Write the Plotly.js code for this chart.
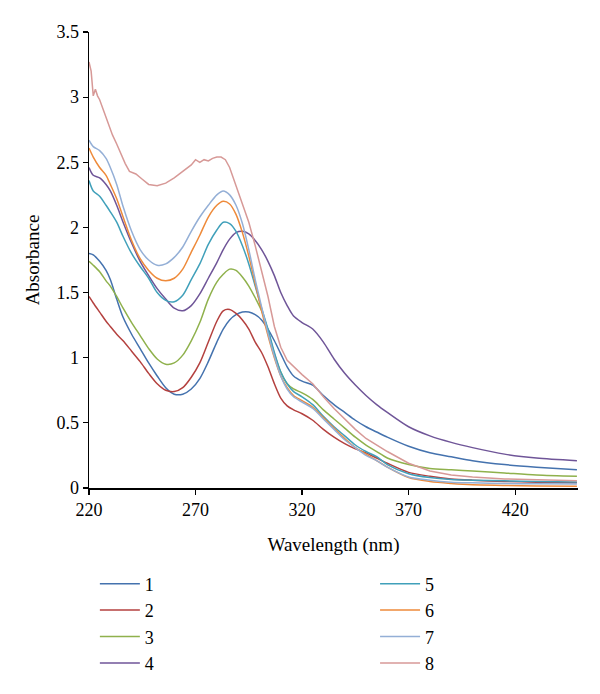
<!DOCTYPE html>
<html>
<head>
<meta charset="utf-8">
<script src="https://cdn.plot.ly/plotly-3.0.1.min.js"></script>
<style>html,body{margin:0;padding:0;background:#fff;}#chart{width:600px;height:694px;}</style>
</head>
<body>
<div id="chart"></div>
<script>
// Wavelengths (nm) shared by series 1-7
const wl = [220,222,225,228,230,233,236,240,244,248,252,256,260,264,268,272,276,280,283,286,289,292,295,298,301,304,307,310,313,316,320,325,330,335,340,345,350,355,360,370,380,390,400,415,430,449];
const s1 = [1.80,1.79,1.74,1.67,1.60,1.45,1.31,1.18,1.07,0.96,0.86,0.77,0.72,0.72,0.76,0.84,0.97,1.12,1.22,1.29,1.33,1.35,1.35,1.33,1.29,1.22,1.13,1.03,0.93,0.86,0.82,0.79,0.71,0.64,0.58,0.52,0.47,0.43,0.39,0.32,0.27,0.24,0.21,0.18,0.16,0.14];
const s2 = [1.47,1.42,1.35,1.28,1.24,1.18,1.13,1.05,0.97,0.88,0.80,0.75,0.74,0.77,0.85,0.96,1.12,1.28,1.36,1.37,1.34,1.29,1.22,1.12,1.04,0.93,0.80,0.69,0.63,0.60,0.57,0.52,0.45,0.39,0.34,0.30,0.27,0.23,0.19,0.12,0.09,0.07,0.06,0.05,0.045,0.04];
const s3 = [1.74,1.71,1.66,1.59,1.55,1.47,1.38,1.27,1.17,1.07,0.99,0.95,0.96,1.02,1.13,1.27,1.45,1.58,1.64,1.68,1.67,1.62,1.55,1.46,1.36,1.21,1.03,0.89,0.80,0.76,0.73,0.68,0.60,0.53,0.46,0.39,0.33,0.28,0.23,0.18,0.15,0.14,0.13,0.115,0.10,0.09];
const s4 = [2.46,2.40,2.38,2.33,2.28,2.17,2.04,1.88,1.74,1.63,1.53,1.45,1.38,1.36,1.40,1.49,1.61,1.73,1.83,1.91,1.96,1.97,1.95,1.90,1.83,1.74,1.63,1.50,1.40,1.32,1.27,1.22,1.12,0.99,0.88,0.79,0.71,0.64,0.58,0.47,0.40,0.35,0.31,0.26,0.23,0.21];
const s5 = [2.36,2.28,2.24,2.17,2.12,2.04,1.93,1.80,1.70,1.61,1.50,1.44,1.43,1.48,1.60,1.72,1.87,1.98,2.04,2.03,1.97,1.86,1.72,1.55,1.38,1.22,1.04,0.89,0.80,0.74,0.70,0.64,0.55,0.47,0.40,0.33,0.28,0.24,0.18,0.11,0.08,0.065,0.06,0.055,0.05,0.046];
const s6 = [2.61,2.54,2.46,2.40,2.33,2.22,2.08,1.90,1.76,1.67,1.61,1.59,1.61,1.68,1.81,1.94,2.08,2.17,2.20,2.18,2.10,1.96,1.78,1.57,1.36,1.17,1.00,0.86,0.77,0.71,0.67,0.62,0.54,0.46,0.38,0.31,0.26,0.21,0.16,0.08,0.05,0.035,0.025,0.02,0.015,0.013];
const s7 = [2.67,2.62,2.59,2.53,2.46,2.33,2.16,1.97,1.83,1.75,1.71,1.72,1.77,1.85,1.97,2.08,2.17,2.25,2.28,2.25,2.17,2.03,1.83,1.60,1.39,1.19,1.01,0.86,0.76,0.70,0.66,0.61,0.53,0.45,0.37,0.31,0.25,0.21,0.16,0.085,0.06,0.045,0.04,0.035,0.032,0.03];
// Series 8 is noisier, sampled more finely
const wl8 = [220,221,222,223,224,225,227,229,231,233,235,237,239,242,245,248,252,256,260,264,266,268,270,272,274,276,278,280,282,284,286,288,290,292,295,298,301,304,307,310,313,316,320,325,330,335,340,345,350,355,360,370,380,390,400,415,430,449];
const s8 = [3.27,3.20,3.01,3.06,3.01,2.98,2.89,2.80,2.71,2.64,2.56,2.49,2.43,2.41,2.37,2.33,2.32,2.34,2.38,2.43,2.45,2.48,2.52,2.50,2.52,2.51,2.53,2.54,2.54,2.52,2.46,2.37,2.28,2.19,2.04,1.86,1.66,1.47,1.24,1.08,0.98,0.93,0.87,0.80,0.70,0.61,0.53,0.45,0.38,0.33,0.28,0.19,0.13,0.10,0.085,0.07,0.062,0.056];

const names = ['1','2','3','4','5','6','7','8'];
const colors = ['#4472AE','#B4413F','#8FB14C','#6F5598','#40A0BA','#EE8A3A','#94AFD6','#D79997'];
const series = [s1,s2,s3,s4,s5,s6,s7,s8];

const fam = '"Liberation Serif", "DejaVu Serif", serif';
const tickFont = {family: fam, color: '#000', size: 18};
const titleFont = {family: fam, color: '#000', size: 19};
const legFont = {family: fam, color: '#000', size: 18};

const traces = series.map((ys, i) => ({
  x: i === 7 ? wl8 : wl,
  y: ys,
  name: names[i],
  type: 'scatter',
  mode: 'lines',
  line: {color: colors[i], width: 1.5, shape: i === 7 ? 'linear' : 'spline', smoothing: 0.8},
  legend: i < 4 ? 'legend' : 'legend2',
  legendgroup: 'g' + i,
  hoverinfo: 'skip'
}));

const legendCommon = {
  orientation: 'v',
  yanchor: 'top', xanchor: 'left',
  y: -0.17,
  font: legFont,
  bgcolor: 'rgba(0,0,0,0)',
  itemwidth: 40,
  tracegroupgap: 0,
  traceorder: 'grouped'
};

const layout = {
  width: 600, height: 694,
  margin: {l: 89, r: 22, t: 32, b: 204},
  paper_bgcolor: '#fff', plot_bgcolor: '#fff',
  font: tickFont,
  showlegend: true,
  xaxis: {
    range: [220, 449.5], tick0: 220, dtick: 50,
    showgrid: false, zeroline: false,
    showline: true, linecolor: '#000', linewidth: 1.5,
    ticks: 'outside', ticklen: 5, tickwidth: 1.2, tickcolor: '#000',
    tickfont: tickFont,
    title: {text: 'Wavelength (nm)', font: titleFont, standoff: 18}
  },
  yaxis: {
    range: [0, 3.5], dtick: 0.5, tick0: 0,
    showgrid: false, zeroline: false,
    showline: true, linecolor: '#000', linewidth: 1.5,
    ticks: 'outside', ticklen: 5, tickwidth: 1.2, tickcolor: '#000',
    tickfont: tickFont,
    title: {text: 'Absorbance', font: titleFont, standoff: 12}
  },
  legend: Object.assign({}, legendCommon, {x: 0.012}),
  legend2: Object.assign({}, legendCommon, {x: 0.585})
};

Plotly.newPlot('chart', traces, layout, {displayModeBar: false, staticPlot: true});
</script>
</body>
</html>
